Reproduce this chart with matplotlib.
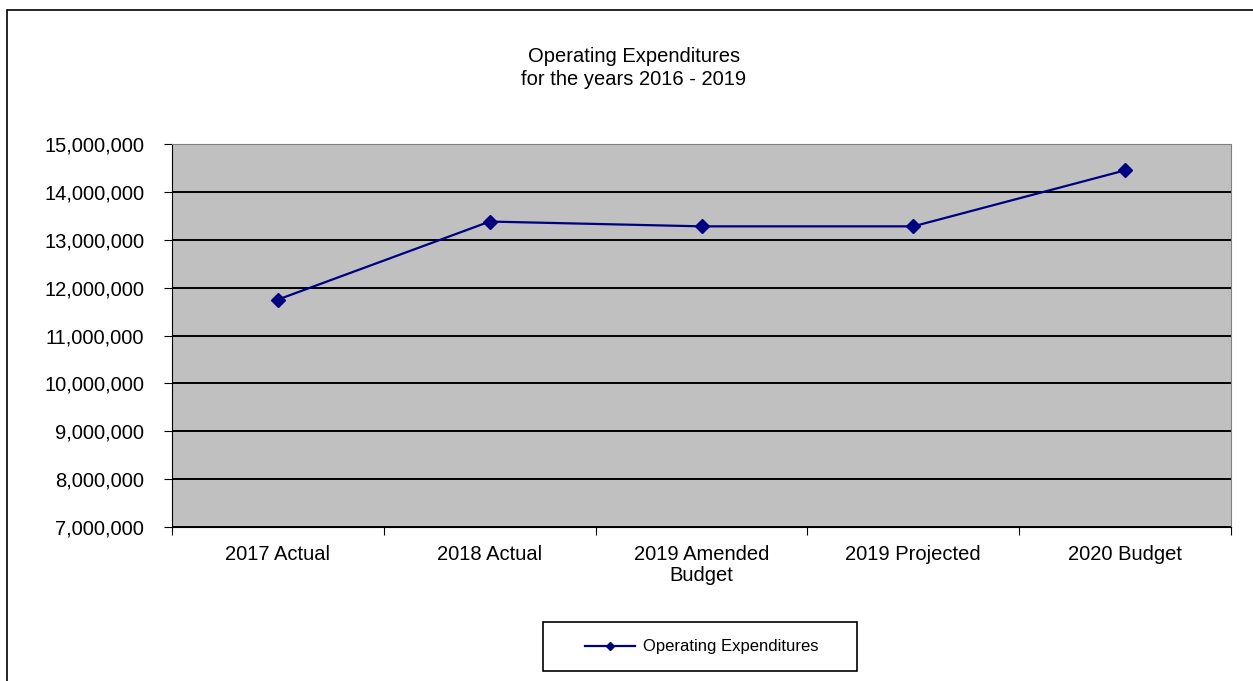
import matplotlib.pyplot as plt
from matplotlib.patches import Rectangle
from matplotlib.ticker import FuncFormatter, FixedLocator, NullFormatter

plt.rcParams["font.family"] = ["Liberation Sans", "DejaVu Sans"]

# Data
categories = ["2017 Actual", "2018 Actual", "2019 Amended\nBudget", "2019 Projected", "2020 Budget"]
expenditures = [11750000, 13380000, 13280000, 13280000, 14450000]

W, H = 1253, 681
fig = plt.figure(figsize=(W / 100, H / 100), dpi=100)
fig.patch.set_facecolor("white")

# outer chart frame (runs off the right/bottom edges)
fig.patches.append(Rectangle((7 / W, -0.2), 1.2, 1.2 - 10 / H,
                             transform=fig.transFigure, fill=False,
                             edgecolor="black", linewidth=1.2))

ax = fig.add_axes([172 / W, 1 - 527 / H, (1231 - 172) / W, (527 - 144) / H])
ax.set_facecolor("#C0C0C0")

x = list(range(len(categories)))
ax.plot(x, expenditures, color="#000080", linewidth=1.6, marker="D",
        markersize=7, label="Operating Expenditures")

ax.set_xlim(-0.5, len(categories) - 0.5)
ax.set_ylim(7000000, 15000000)
ax.set_yticks(range(7000000, 15000001, 1000000))
ax.yaxis.set_major_formatter(FuncFormatter(lambda v, p: f"{int(v):,}"))
ax.grid(axis="y", color="black", linewidth=1.4)
ax.set_axisbelow(True)

# Excel-style category ticks between categories
ax.xaxis.set_major_locator(FixedLocator([i - 0.5 for i in range(len(categories) + 1)]))
ax.xaxis.set_major_formatter(NullFormatter())
ax.xaxis.set_minor_locator(FixedLocator(x))
ax.set_xticklabels(categories, minor=True)
ax.tick_params(axis="x", which="minor", length=0, pad=13, labelsize=14.5)
ax.tick_params(axis="x", which="major", length=6, direction="out", color="black")
ax.tick_params(axis="y", length=6, labelsize=14.5, pad=14)
for lbl in ax.get_xticklabels(minor=True):
    lbl.set_linespacing(1.15)

ax.spines["top"].set_color("#808080")
ax.spines["right"].set_color("#808080")
ax.spines["left"].set_color("black")
ax.spines["bottom"].set_color("black")

fig.text(634 / W, 1 - 62 / H, "Operating Expenditures", ha="center", va="baseline", fontsize=14.5)
fig.text(634 / W, 1 - 85 / H, "for the years 2016 - 2019", ha="center", va="baseline", fontsize=14.5)

# legend with a separately drawn box
fig.patches.append(Rectangle((543 / W, 1 - 671 / H), (857 - 543) / W, (671 - 622) / H,
                             transform=fig.transFigure, fill=False,
                             edgecolor="black", linewidth=1.2))
ax.legend(loc="center", bbox_to_anchor=(702 / W, 1 - 647 / H),
          bbox_transform=fig.transFigure, frameon=False,
          fontsize=12, markerscale=0.65, handlelength=3.0, handletextpad=0.5,
          borderaxespad=0)

fig.savefig("out.png", dpi=100)
